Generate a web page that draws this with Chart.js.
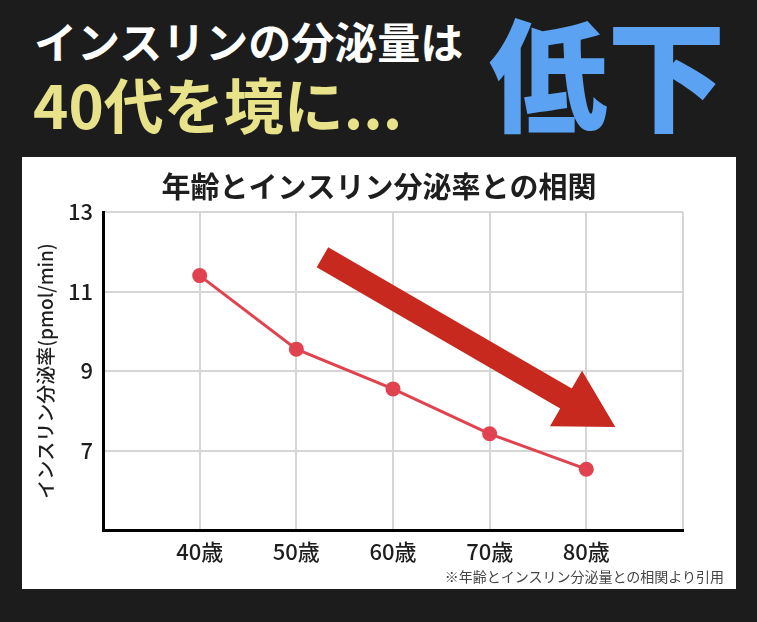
<!DOCTYPE html>
<html>
<head>
<meta charset="utf-8">
<script src="https://cdn.jsdelivr.net/npm/chart.js@4"></script>
<style>
  html, body { margin:0; padding:0; }
  body { width:757px; height:622px; background:#1c1c1c; position:relative; overflow:hidden;
         font-family:"Noto Sans CJK JP","Noto Sans",sans-serif; }
  .h { position:absolute; line-height:1; white-space:nowrap; font-weight:700; }
  #l1 { left:34px; top:19px; font-size:43px; color:#ffffff; }
  #l2 { left:33px; top:73px; font-size:60px; color:#e8e38a; }
  #big { left:489px; top:8px; font-size:122px; color:#5ba3f2; font-weight:900; transform:scaleX(0.97); transform-origin:left top; }
  #panel { position:absolute; left:22px; top:157px; width:714px; height:432px; background:#ffffff; }
  #panel canvas { position:absolute; left:0; top:0; }
  #note { position:absolute; right:12px; top:412px; font-size:14px; color:#444; line-height:1; white-space:nowrap; }
</style>
</head>
<body>
<div class="h" id="l1">インスリンの分泌量は</div>
<div class="h" id="l2">40代を境に...</div>
<div class="h" id="big">低下</div>
<div id="panel">
  <canvas id="c" width="714" height="432"></canvas>
  <div id="note">※年齢とインスリン分泌量との相関より引用</div>
</div>
<script>
// ---- data ----
const ages = [40, 50, 60, 70, 80];
const ageLabels = ['40歳', '50歳', '60歳', '70歳', '80歳'];
const secretionRate = [11.4, 9.55, 8.55, 7.42, 6.53];
const yTicksShown = [7, 9, 11, 13];
// decorative trend arrow, in data units (age, rate)
const arrowFrom = [52.7, 11.86];
const arrowTo = [83.0, 7.59];

const FONT = '"Noto Sans CJK JP","Noto Sans",sans-serif';

const arrowPlugin = {
  id: 'trendArrow',
  afterDatasetsDraw(chart) {
    const {ctx, scales: {x, y}} = chart;
    const x0 = x.getPixelForValue(arrowFrom[0]), y0 = y.getPixelForValue(arrowFrom[1]);
    const x1 = x.getPixelForValue(arrowTo[0]), y1 = y.getPixelForValue(arrowTo[1]);
    const dx = x1 - x0, dy = y1 - y0, len = Math.hypot(dx, dy);
    const ux = dx / len, uy = dy / len, nx = -uy, ny = ux;
    const shaftW = 23, headW = 64, headL = 57;
    const bx = x1 - ux * headL, by = y1 - uy * headL;
    ctx.save();
    ctx.fillStyle = '#c8291f';
    ctx.beginPath();
    ctx.moveTo(x0 + nx * shaftW / 2, y0 + ny * shaftW / 2);
    ctx.lineTo(bx + nx * shaftW / 2, by + ny * shaftW / 2);
    ctx.lineTo(bx + nx * headW / 2, by + ny * headW / 2);
    ctx.lineTo(x1, y1);
    ctx.lineTo(bx - nx * headW / 2, by - ny * headW / 2);
    ctx.lineTo(bx - nx * shaftW / 2, by - ny * shaftW / 2);
    ctx.lineTo(x0 - nx * shaftW / 2, y0 - ny * shaftW / 2);
    ctx.closePath();
    ctx.fill();
    ctx.restore();
  }
};

new Chart(document.getElementById('c'), {
  type: 'line',
  data: {
    datasets: [{
      data: ages.map((a, i) => ({x: a, y: secretionRate[i]})),
      borderColor: '#e0434f',
      backgroundColor: '#e0434f',
      borderWidth: 3,
      pointRadius: 7.5,
      pointHoverRadius: 7.5,
      pointBorderWidth: 0,
      tension: 0
    }]
  },
  options: {
    responsive: false,
    animation: false,
    layout: { padding: 0 },
    plugins: {
      legend: { display: false },
      tooltip: { enabled: false },
      title: {
        display: true,
        text: '年齢とインスリン分泌率との相関',
        color: '#1e1e1e',
        font: { family: FONT, size: 29, weight: 'bold', lineHeight: 1.2 },
        padding: { top: 13, bottom: 7.2 }
      }
    },
    scales: {
      x: {
        type: 'linear',
        min: 30, max: 90,
        afterFit(s) { s.height = 59; },
        border: { display: true, color: '#000000', width: 3 },
        grid: { color: '#d6d6d6', lineWidth: 2, drawTicks: false },
        ticks: {
          stepSize: 10,
          padding: 8,
          color: '#1e1e1e',
          font: { family: FONT, size: 22, weight: '500' },
          callback(v) { const i = ages.indexOf(v); return i >= 0 ? ageLabels[i] : ''; }
        }
      },
      y: {
        min: 5, max: 13,
        afterFit(s) { s.width = 81; },
        border: { display: true, color: '#000000', width: 3 },
        grid: { color: '#d6d6d6', lineWidth: 2, drawTicks: false },
        title: {
          display: true,
          text: 'インスリン分泌率(pmol/min)',
          color: '#1e1e1e',
          font: { family: FONT, size: 19, weight: '500', lineHeight: 1.2 },
          padding: { top: 12, bottom: 0 }
        },
        ticks: {
          stepSize: 2,
          padding: 10,
          color: '#1e1e1e',
          font: { family: FONT, size: 22, weight: '500' },
          callback(v) { return yTicksShown.includes(v) ? String(v) : ''; }
        }
      },
      yRight: {
        position: 'right',
        min: 5, max: 13,
        afterFit(s) { s.width = 53; },
        border: { display: false },
        grid: { display: false, drawOnChartArea: false },
        ticks: { display: false }
      }
    }
  },
  plugins: [arrowPlugin]
});
</script>
</body>
</html>
